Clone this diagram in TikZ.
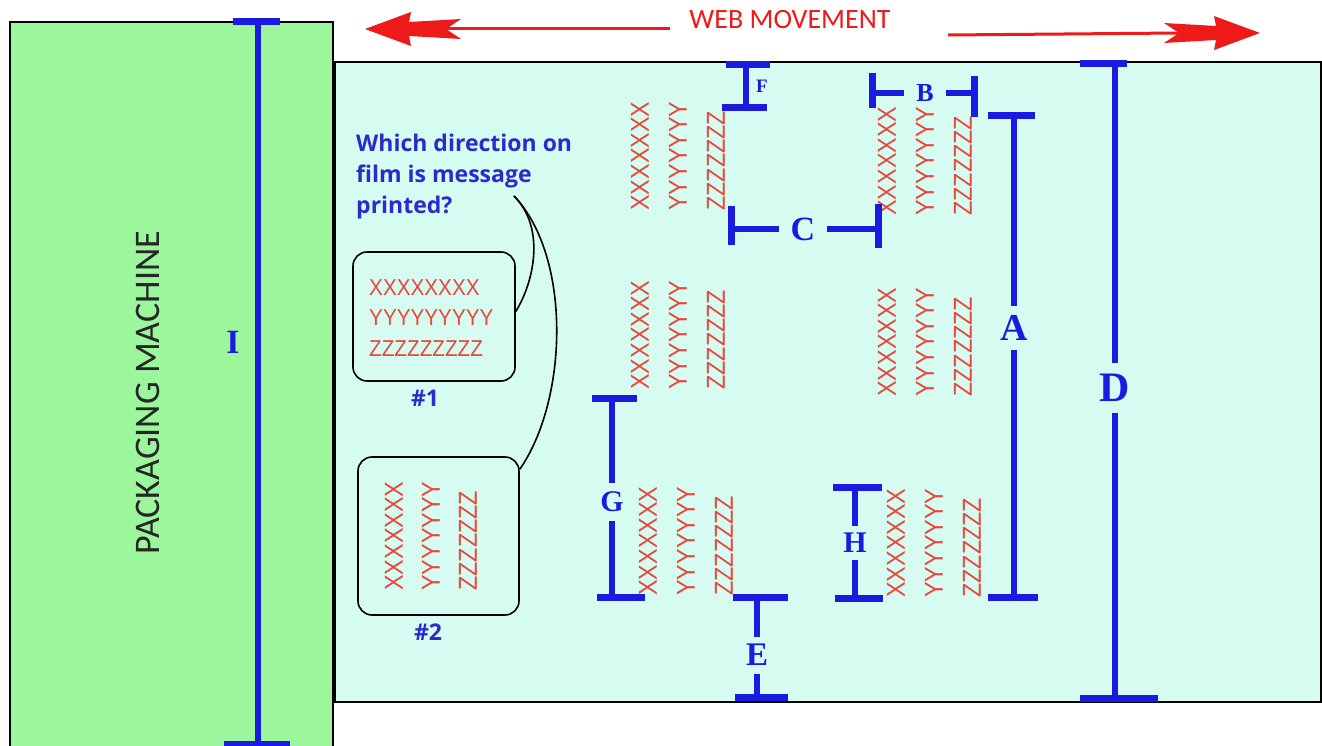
\documentclass[tikz,border=0pt]{standalone}
\usepackage{fontspec}
\setmainfont{Liberation Serif}
\newfontfamily\signfont{Carlito}
\newfontfamily\printfont[FakeStretch=0.9]{Liberation Sans}
\newfontfamily\notefont{Open Sans}
\usetikzlibrary{arrows.meta,positioning,calc}
\definecolor{machGreen}{HTML}{9CF79C}
\definecolor{webCyan}{HTML}{D6FCF2}
\definecolor{dimBlue}{HTML}{1A1AE0}
\definecolor{noteBlue}{HTML}{2B2BCC}
\definecolor{printRed}{HTML}{E8473C}
\definecolor{arrowRed}{HTML}{EE1A1A}

\begin{document}
\begin{tikzpicture}[x=1pt,y=-1pt,inner sep=0pt,
    dimline/.style={draw=dimBlue,line width=6pt},
    dimcap/.style={draw=dimBlue,line width=7pt},
    dimlab/.style={text=dimBlue,inner sep=#1},
    webshaft/.style={draw=arrowRed,line width=3pt},
    printcol/.style={rotate=90,anchor=west,text=printRed,
      font=\printfont\fontsize{26}{26}\selectfont},
    msgbox/.style={draw,line width=1.6pt,rounded corners=14pt}]
  \clip (0,0) rectangle (1322,746);
  \fill[white] (0,0) rectangle (1322,746);

  % machine and web
  \draw[fill=machGreen,line width=1.5pt] (10,22) rectangle (333,770);
  \draw[fill=webCyan,line width=2pt] (335,62) rectangle (1321,702);
  \node[rotate=90,text=black!85,font=\signfont\fontsize{36}{36}\selectfont]
    (machine) at (148,393) {PACKAGING MACHINE};

  % web movement
  \node[text=arrowRed,font=\signfont\fontsize{28}{28}\selectfont]
    (web) at (790,20) {WEB MOVEMENT};
  \coordinate (webLtip) at (365,29);
  \coordinate (webLtail) at (445,29);
  \coordinate (webLs) at (670,29);
  \coordinate (webRtip) at (1260,33);
  \coordinate (webRtail) at (1180,33);
  \coordinate (webRs) at (948,35);
  \draw[webshaft] (webLs) -- (webLtail);
  \draw[webshaft] (webRs) -- (webRtail);
  \fill[arrowRed] (webLtip) -- ++(46,-17) -- ++(-2,10) -- ++(52,-3) -- ++(-15,10)
    -- ++(15,10) -- ++(-52,-3) -- ++(2,10) -- cycle;
  \fill[arrowRed] (webRtip) -- ++(-46,-17) -- ++(2,10) -- ++(-52,-3) -- ++(15,10)
    -- ++(-15,10) -- ++(52,-3) -- ++(-2,10) -- cycle;

  % question and the two examples
  \node[anchor=north west,align=left,text=noteBlue,
        font=\notefont\bfseries\fontsize{23}{31}\selectfont]
    (question) at (356,134) {Which direction on\\film is message\\printed?};
  \node[msgbox,minimum width=162pt,minimum height=129pt] (box1) at (434,316.5) {};
  \node[msgbox,minimum width=161pt,minimum height=158pt] (box2) at (438.5,536) {};
  \node[anchor=west,align=left,text=printRed,
        font=\printfont\fontsize{23}{30.5}\selectfont]
    (box1txt) at (369,318) {XXXXXXXX\\YYYYYYYYY\\ZZZZZZZZZ};
  \foreach \txt [count=\c from 0] in {XXXXXXX,YYYYYYY,ZZZZZZZ}
    \node[printcol] (box2col\c) at (394+37*\c,591) {\txt};
  \node[text=noteBlue,font=\notefont\bfseries\fontsize{23}{23}\selectfont]
    (num1) at (425,398) {\#1};
  \node[text=noteBlue,font=\notefont\bfseries\fontsize{23}{23}\selectfont]
    (num2) at (428,632) {\#2};
  \coordinate (tail) at (514,196);
  \draw[line width=1.6pt] (tail) .. controls (545,227) and (535,280) .. ([yshift=5pt]box1.east);
  \draw[line width=1.6pt] (tail) .. controls (572,257) and (568,400) .. ([yshift=-13pt]box2.north east);

  % printed messages on the web
  \foreach \gx/\gy [count=\g] in {640/211,887/216,640/390,887/397,648/596,896/598}
    \foreach \txt [count=\c from 0] in {XXXXXXX,YYYYYYY,ZZZZZZZ}
      \node[printcol] (grp\g-\c) at (\gx+38*\c,\gy) {\txt};

  % dimensions
  \coordinate (Itop) at (258,22);
  \coordinate (Ibot) at (258,744);
  \draw[dimline] (Itop) -- (Ibot);
  \draw[dimcap] ([xshift=-25pt]Itop) -- ([xshift=22pt]Itop);
  \draw[dimcap] ([xshift=-34pt]Ibot) -- ([xshift=32pt]Ibot);
  \node[dimlab=0pt,font=\bfseries\fontsize{34}{34}\selectfont] (Ilab) at (233,342) {I};

  \coordinate (Dtop) at (1115,64);
  \coordinate (Dbot) at (1115,698);
  \node[dimlab=11pt,font=\bfseries\fontsize{42}{42}\selectfont] (Dlab) at (1115,388) {D};
  \draw[dimline] (Dtop) -- (Dlab) -- (Dbot);
  \draw[dimcap] ([xshift=-35pt]Dtop) -- ([xshift=12pt]Dtop);
  \draw[dimcap] ([xshift=-35pt]Dbot) -- ([xshift=43pt]Dbot);

  \coordinate (Atop) at (1014,116);
  \coordinate (Abot) at (1014,597);
  \node[dimlab=9.5pt,font=\bfseries\fontsize{38}{38}\selectfont] (Alab) at (1014,328) {A};
  \draw[dimline] (Atop) -- (Alab) -- (Abot);
  \draw[dimcap] ([xshift=-26pt]Atop) -- ([xshift=21pt]Atop);
  \draw[dimcap] ([xshift=-26pt]Abot) -- ([xshift=24pt]Abot);

  \coordinate (Etop) at (757,597);
  \coordinate (Ebot) at (757,697);
  \node[dimlab=7.5pt,font=\bfseries\fontsize{33}{33}\selectfont] (Elab) at (757,655) {E};
  \draw[dimline] (Etop) -- (Elab) -- (Ebot);
  \draw[dimcap] ([xshift=-24pt]Etop) -- ([xshift=31pt]Etop);
  \draw[dimcap] ([xshift=-22pt]Ebot) -- ([xshift=31pt]Ebot);

  \coordinate (Gtop) at (612,398);
  \coordinate (Gbot) at (612,597);
  \node[dimlab=8.5pt,font=\bfseries\fontsize{30}{30}\selectfont] (Glab) at (612,502) {G};
  \draw[dimline] (Gtop) -- (Glab) -- (Gbot);
  \draw[dimcap] ([xshift=-20pt]Gtop) -- ([xshift=25pt]Gtop);
  \draw[dimcap] ([xshift=-15pt]Gbot) -- ([xshift=33pt]Gbot);

  \coordinate (Htop) at (855,487);
  \coordinate (Hbot) at (855,598);
  \node[dimlab=7pt,font=\bfseries\fontsize{30}{30}\selectfont] (Hlab) at (855,543) {H};
  \draw[dimline] (Htop) -- (Hlab) -- (Hbot);
  \draw[dimcap] ([xshift=-22pt]Htop) -- ([xshift=27pt]Htop);
  \draw[dimcap] ([xshift=-20pt]Hbot) -- ([xshift=28pt]Hbot);

  \coordinate (Ftop) at (746,65);
  \coordinate (Fbot) at (746,108);
  \draw[dimline] (Ftop) -- (Fbot);
  \draw[dimcap] ([xshift=-20pt]Ftop) -- ([xshift=24pt]Ftop);
  \draw[dimcap] ([xshift=-24pt]Fbot) -- ([xshift=21pt]Fbot);
  \node[dimlab=0pt,font=\bfseries\fontsize{19}{19}\selectfont] (Flab) at (762,86) {F};

  \coordinate (Bleft) at (872,93);
  \coordinate (Bright) at (974,93);
  \node[dimlab=12.5pt,font=\bfseries\fontsize{26}{26}\selectfont] (Blab) at (925,93) {B};
  \draw[dimline] (Bleft) -- (Blab) -- (Bright);
  \draw[dimcap] ([yshift=20pt]Bleft) -- ([yshift=-15pt]Bleft);
  \draw[dimcap] ([yshift=17pt]Bright) -- ([yshift=-24pt]Bright);

  \coordinate (Cleft) at (731,229);
  \coordinate (Cright) at (878,229);
  \node[dimlab=12pt,font=\bfseries\fontsize{34}{34}\selectfont] (Clab) at (803,229) {C};
  \draw[dimline] (Cleft) -- (Clab) -- (Cright);
  \draw[dimcap] ([yshift=23pt]Cleft) -- ([yshift=-16pt]Cleft);
  \draw[dimcap] ([yshift=25pt]Cright) -- ([yshift=-19pt]Cright);
\end{tikzpicture}
\end{document}
